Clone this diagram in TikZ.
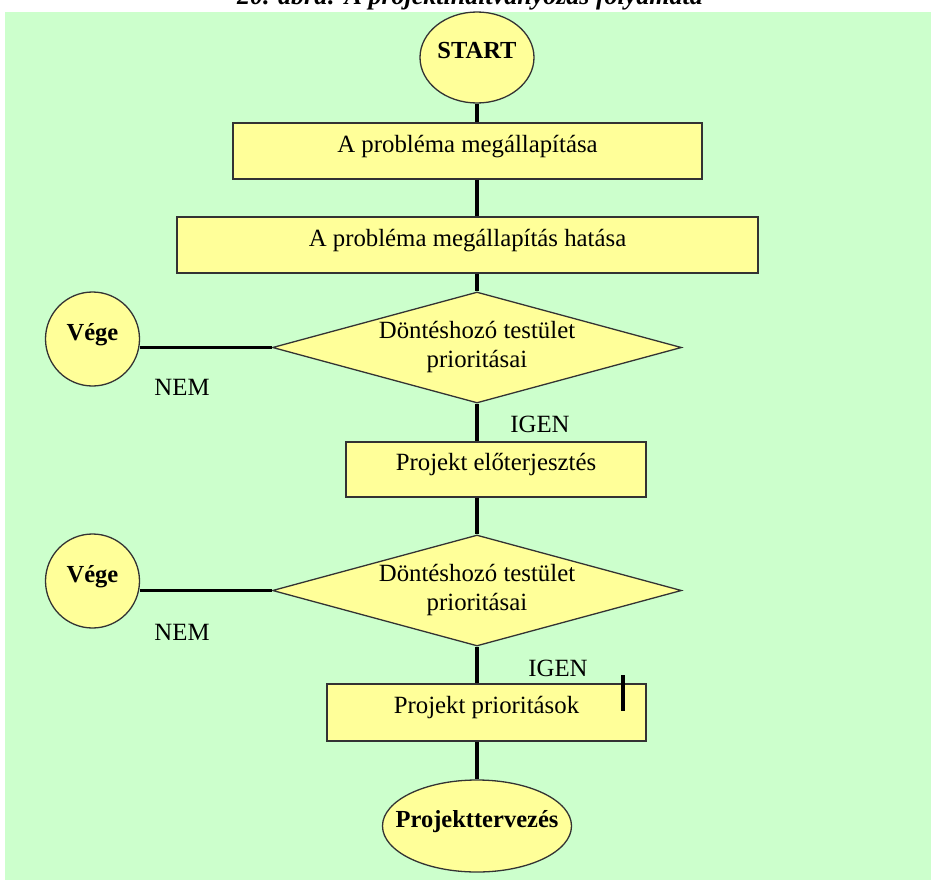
\documentclass[tikz,border=0pt]{standalone}
\usepackage{fontspec}
\setmainfont{Liberation Serif}
\usetikzlibrary{shapes.geometric}
\definecolor{bgGreen}{HTML}{CCFFCC}
\definecolor{boxYellow}{HTML}{FFFF99}
\begin{document}
\begin{tikzpicture}[x=1pt,y=-1pt,
  shapeline/.style={draw=black!80, line width=1.3pt, fill=boxYellow},
  txt/.style={font=\fontsize{24.8}{29}\selectfont},
  procbox/.style={shapeline, rectangle, txt, inner sep=0pt, minimum height=56pt,
    text height=12pt, text depth=10pt},
  decision/.style={shapeline, diamond, txt, align=center, inner sep=0pt,
    aspect=3.68, minimum width=409pt, minimum height=111pt},
  terminal/.style={shapeline, ellipse, inner ysep=0pt,
    font=\fontsize{24.5}{29}\selectfont\bfseries, text height=12pt, text depth=10pt},
  endcircle/.style={shapeline, circle, inner sep=0pt, minimum size=94pt,
    font=\fontsize{24.5}{29}\selectfont\bfseries, text height=12pt, text depth=10pt},
  answer/.style={txt, inner sep=0pt},
  conn/.style={line width=3.3pt, black}
]
\useasboundingbox (0,0) rectangle (931,883);
\clip (0,0) rectangle (931,883);

% background panel
\fill[bgGreen] (5,12) rectangle (931,880);

% caption
\node[font=\fontsize{26}{30}\selectfont\bfseries\itshape, anchor=base, inner sep=0pt]
  (title) at (470,5) {20. ábra: A projektindítványozás folyamata};

% flow elements
\node[terminal, inner xsep=0pt, minimum width=114pt, minimum height=91pt] (start) at (477,57.5) {START};
\node[procbox, minimum width=469pt] (box1) at (467.5,151) {A probléma megállapítása};
\node[procbox, minimum width=581pt] (box2) at (467.5,245) {A probléma megállapítás hatása};
\node[decision] (d1) at (477,347.5) {Döntéshozó testület\\prioritásai};
\node[endcircle] (vege1) at (92.5,339) {Vége};
\node[answer] (nem1) at (182,387) {NEM};
\node[answer] (igen1) at (540,424) {IGEN};
\node[procbox, minimum width=300pt, minimum height=55pt] (box3) at (496,469.5) {Projekt előterjesztés};
\node[decision] (d2) at (477,590.5) {Döntéshozó testület\\prioritásai};
\node[endcircle] (vege2) at (92.5,581) {Vége};
\node[answer] (nem2) at (182,632) {NEM};
\node[answer] (igen2) at (558,668) {IGEN};
\node[procbox, minimum width=319pt, minimum height=57pt] (box4) at (486.5,712.5) {Projekt prioritások};
\node[terminal, inner xsep=-20pt, minimum width=189pt, minimum height=92pt] (proj) at (477,826) {Projekttervezés};

% connectors
\draw[conn] (start.south) -- (start.south |- box1.north);
\draw[conn] (start.south |- box1.south) -- (start.south |- box2.north);
\draw[conn] (start.south |- box2.south) -- (d1.north);
\draw[conn] (d1.south) -- (d1.south |- box3.north);
\draw[conn] (d1.south |- box3.south) -- (d2.north);
\draw[conn] (d2.south) -- (d2.south |- box4.north);
\draw[conn] (d2.south |- box4.south) -- (proj.north);
\draw[conn] (d1.west) -- (d1.west -| vege1.east);
\draw[conn] (d2.west) -- (d2.west -| vege2.east);

% short stroke on the last box
\coordinate (tickTop) at (623,675);
\coordinate (tickBot) at (623,711);
\draw[conn, line width=4pt] (tickTop) -- (tickBot);
\end{tikzpicture}
\end{document}
